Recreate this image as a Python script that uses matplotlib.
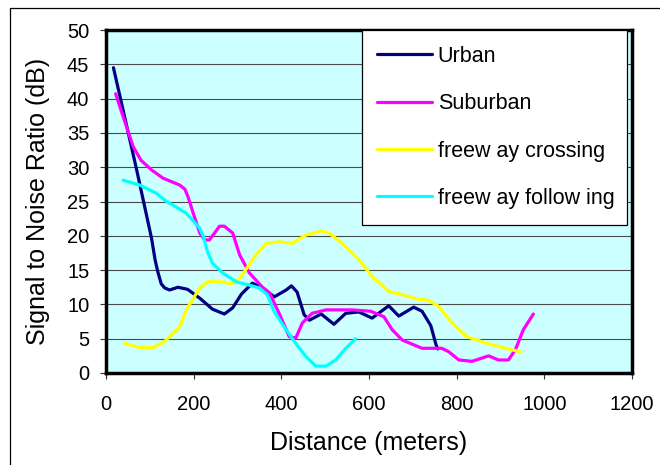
import matplotlib
matplotlib.use("Agg")
import matplotlib.pyplot as plt
from matplotlib.patches import Rectangle

plt.rcParams['font.family'] = ['Liberation Sans', 'DejaVu Sans']

# ---- data ----
urban_x = [17, 70, 104, 112, 118, 126, 134, 145, 164, 186, 214, 243, 270, 289, 309, 334, 357, 384,
           411, 423, 436, 452, 464, 491, 520, 547, 577, 607, 645, 668, 702, 721, 741, 753, 757]
urban_y = [44.5, 29.6, 19.6, 16.5, 14.8, 13.0, 12.4, 12.1, 12.5, 12.2, 10.9, 9.3, 8.6, 9.5, 11.5, 13.1,
           12.4, 11.1, 12.1, 12.7, 11.8, 8.5, 7.7, 8.6, 7.1, 8.7, 8.9, 8.0, 9.8, 8.3, 9.6, 9.0, 6.9, 4.1, 3.5]

suburban_x = [22, 39, 62, 80, 104, 130, 168, 180, 187, 199, 214, 225, 236, 250, 259, 270, 289, 305,
              327, 357, 373, 395, 418, 433, 448, 470, 502, 561, 604, 634, 653, 676, 721, 766, 782,
              805, 835, 873, 895, 918, 934, 952, 975]
suburban_y = [40.7, 37.4, 33.0, 31.0, 29.6, 28.4, 27.4, 26.8, 25.7, 23.3, 20.4, 19.4, 19.4, 20.6, 21.4,
              21.4, 20.4, 17.2, 14.6, 12.5, 11.7, 8.7, 5.3, 5.1, 7.3, 8.7, 9.2, 9.2, 9.0, 8.2, 6.3,
              4.8, 3.6, 3.6, 3.1, 1.9, 1.7, 2.5, 1.9, 1.9, 3.4, 6.3, 8.6]

crossing_x = [43, 77, 107, 134, 168, 183, 214, 232, 259, 286, 305, 342, 365, 395, 425, 456, 490, 509,
              539, 577, 608, 645, 676, 710, 736, 759, 789, 823, 865, 911, 945]
crossing_y = [4.3, 3.7, 3.7, 4.6, 6.7, 9.2, 12.4, 13.3, 13.3, 13.0, 13.8, 17.2, 18.9, 19.1, 18.9, 20.1,
              20.7, 20.4, 18.9, 16.5, 14.0, 11.9, 11.4, 10.8, 10.6, 9.7, 7.3, 5.3, 4.4, 3.6, 3.1]

following_x = [39, 77, 115, 138, 160, 183, 214, 222, 232, 243, 266, 297, 327, 350, 368, 384, 411, 433,
               456, 479, 502, 524, 547, 570]
following_y = [28.1, 27.4, 26.2, 25.0, 24.2, 23.3, 21.1, 19.9, 17.6, 16.0, 14.6, 13.3, 12.8, 12.4,
               11.4, 8.9, 6.3, 4.3, 2.4, 1.0, 1.0, 1.9, 3.6, 5.0]

series_labels = ['Urban', 'Suburban', 'freew ay crossing', 'freew ay follow ing']
series_colors = ['#000080', '#FF00FF', '#FFFF00', '#00FFFF']

x_ticks = [0, 200, 400, 600, 800, 1000, 1200]
y_ticks = [0, 5, 10, 15, 20, 25, 30, 35, 40, 45, 50]

W, H = 660, 465
fig = plt.figure(figsize=(W / 100, H / 100), dpi=100)
fig.patch.set_facecolor('white')

# outer frame
fig.patches.append(Rectangle((10 / W, -0.1), 1.2, 1 - 8 / H + 0.1, transform=fig.transFigure,
                             fill=False, edgecolor='black', linewidth=0.9))

L, R, T, B = 106, 632, 30, 373
ax = fig.add_axes([L / W, 1 - B / H, (R - L) / W, (B - T) / H])
ax.set_facecolor('#CCFFFF')

data = [(urban_x, urban_y), (suburban_x, suburban_y), (crossing_x, crossing_y),
        (following_x, following_y)]
for (xs, ys), lab, col in zip(data, series_labels, series_colors):
    ax.plot(xs, ys, color=col, lw=2.3, label=lab, solid_joinstyle='round',
            solid_capstyle='round', zorder=3)

ax.set_xlim(0, 1200)
ax.set_ylim(0, 50)
ax.set_xticks(x_ticks)
ax.set_yticks(y_ticks)
ax.yaxis.grid(True, color='#4a4a4a', lw=0.8)
ax.set_axisbelow(True)
for s in ax.spines.values():
    s.set_linewidth(2.5)
    s.set_color('black')
ax.tick_params(axis='x', direction='out', length=4, width=0.8, pad=12, labelsize=14.5, color='#333333')
ax.tick_params(axis='y', direction='out', length=4, width=0.8, pad=8, labelsize=14.5, color='#333333')

fig.text(369 / W, 1 - 443 / H, 'Distance (meters)', ha='center', va='center', fontsize=18)
fig.text(38 / W, 1 - 201 / H, 'Signal to Noise Ratio (dB)', ha='center', va='center',
         rotation=90, fontsize=18)

# legend box drawn explicitly
ax.add_patch(Rectangle((362 / W, 1 - 225 / H), (627 - 362) / W, (225 - 30) / H,
                       transform=fig.transFigure, facecolor='white', edgecolor='black',
                       linewidth=0.9, zorder=4, clip_on=False))
leg = ax.legend(loc='upper left', bbox_to_anchor=(377 / W, 1 - 46 / H),
                bbox_transform=fig.transFigure, fontsize=15.5, frameon=False,
                borderaxespad=0, borderpad=0, handlelength=2.56,
                handletextpad=0.26, labelspacing=1.22)
leg.set_zorder(5)
for h in leg.get_lines():
    h.set_linewidth(2.3)

fig.savefig('out.png', dpi=100)
